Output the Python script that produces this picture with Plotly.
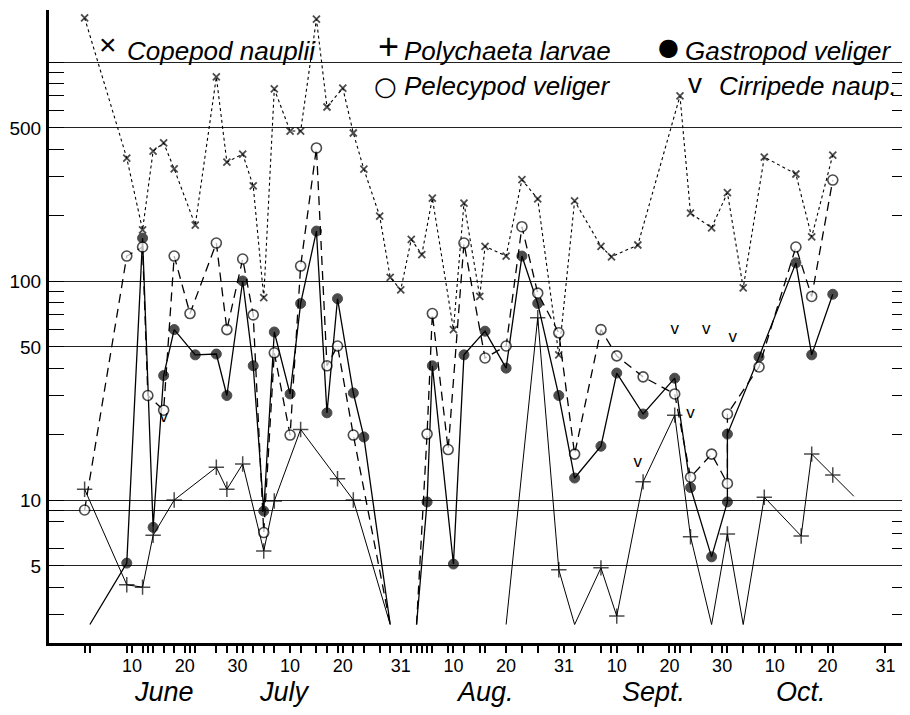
import plotly.graph_objects as go

YEAR = 1930

# ---------------- data ----------------
COPEPOD_DATES = ["06-01", "06-09", "06-12", "06-14", "06-16", "06-18", "06-22", "06-26", "06-28",
                 "07-01", "07-03", "07-05", "07-07", "07-10", "07-12", "07-15", "07-17", "07-20",
                 "07-22", "07-24", "07-27", "07-29", "07-31", "08-02", "08-04", "08-06", "08-10",
                 "08-12", "08-15", "08-16", "08-20", "08-23", "08-26", "08-30", "09-02", "09-07",
                 "09-09", "09-14", "09-22", "09-24", "09-28", "10-01", "10-04", "10-08", "10-14",
                 "10-17", "10-21"]
COPEPOD_VALUES = [1590, 364, 171, 392, 427, 325, 180, 855, 349,
                  380, 272, 84, 753, 484, 484, 1570, 623, 760,
                  474, 324, 198, 104, 91, 155, 132, 239, 60,
                  227, 85, 144, 130, 290, 237, 46, 232, 144,
                  129, 146, 700, 204, 175, 253, 93, 368, 308,
                  159, 376]

POLY_DATES = ["06-01", "06-09", "06-12", "06-14", "06-18", "06-26", "06-28", "07-01", "07-05",
              "07-07", "07-12", "07-19", "07-22", "07-29", "08-20", "08-26", "08-30", "09-02",
              "09-07", "09-10", "09-15", "09-21", "09-24", "09-28", "10-01", "10-04", "10-08",
              "10-15", "10-17", "10-21"]
POLY_VALUES = [11.2, 4.1, 4.0, 6.9, 10, 14.1, 11.2, 14.6, 5.85,
               9.9, 21, 12.5, 10, 0, 0, 68, 4.8, 0,
               4.9, 2.95, 12.1, 24.4, 6.8, 0, 7, 0, 10.3,
               6.85, 16.2, 13]
POLY_LINE_END = ("10-25", 10.4)   # line drawn on past the last sample, no marker

GASTRO_DATES = ["06-02", "06-09", "06-12", "06-14", "06-16", "06-18", "06-22", "06-26", "06-28",
                "07-01", "07-03", "07-05", "07-07", "07-10", "07-12", "07-15", "07-17", "07-19",
                "07-22", "07-24", "07-29", "08-03", "08-05", "08-06", "08-10", "08-12", "08-16",
                "08-20", "08-23", "08-26", "08-30", "09-02", "09-07", "09-10", "09-15", "09-21",
                "09-24", "09-28", "10-01", "10-01", "10-07", "10-14", "10-17", "10-21"]
GASTRO_VALUES = [0, 5.15, 157, 7.5, 37, 60, 46, 46.4, 30,
                 100, 41, 8.9, 58.5, 30.5, 79, 169, 25, 83,
                 30.8, 19.4, 0, 0, 9.8, 41, 5.1, 46, 59,
                 40, 130, 79, 30, 12.6, 17.6, 38, 24.7, 36,
                 11.4, 5.5, 9.8, 20, 45, 121, 46, 87]

PELE_DATES = ["06-01", "06-09", "06-12", "06-13", "06-16", "06-18", "06-21", "06-26", "06-28",
              "07-01", "07-03", "07-05", "07-07", "07-10", "07-12", "07-15", "07-17", "07-19",
              "07-22", "07-29", "08-03", "08-05", "08-06", "08-09", "08-12", "08-16", "08-20",
              "08-23", "08-26", "08-30", "09-02", "09-07", "09-10", "09-15", "09-21", "09-24",
              "09-28", "10-01", "10-01", "10-07", "10-14", "10-17", "10-21"]
PELE_VALUES = [9, 130, 143, 30, 25.7, 130, 71, 149, 60,
               126, 70, 7.1, 47, 19.8, 117, 405, 41, 50.5,
               19.8, 0, 0, 20, 71, 17, 149, 44.5, 50.5,
               177, 88, 58, 16.2, 60, 45.5, 36.5, 30.5, 12.7,
               16.2, 11.9, 24.7, 40.5, 143, 85, 289]

CIRRI_DATES = ["06-16", "09-14", "09-21", "09-24", "09-27", "10-02"]
CIRRI_VALUES = [23.7, 14.8, 60, 24.7, 60, 55]

Y_LABEL_VALUES = [5, 10, 50, 100, 500]
Y_GRID_VALUES = [5, 9, 10, 50, 100, 500, 1000]
Y_MINOR_LEFT = [3, 4, 6, 8, 20, 30, 40, 60, 70, 80, 90, 200, 300, 400, 600, 700, 800, 900]
Y_MINOR_RIGHT = [3, 4, 6, 7, 8, 20, 30, 40, 60, 70, 80, 90, 200, 300, 400, 600, 700, 800, 900]

X_TICK_DATES = ["06-10", "06-20", "06-30", "07-10", "07-20", "07-31", "08-10", "08-20", "08-31",
                "09-10", "09-20", "09-30", "10-10", "10-20", "10-31"]
X_TICK_TEXT = ["10", "20", "30", "10", "20", "31", "10", "20", "31",
               "10", "20", "30", "10", "20", "31"]
MONTHS = ["June", "July", "Aug.", "Sept.", "Oct."]
MONTH_CENTERS = ["06-16", "07-09", "08-16", "09-17", "10-15"]

LEGEND_NAMES = ["Copepod nauplii", "Polychaeta larvae", "Gastropod veliger",
                "Pelecypod veliger", "Cirripede naup."]
LEGEND_GLYPHS = ["×", "+", "●", "○", "v"]

# ---------------- helpers ----------------
FLOOR = 2.7   # level at which zero counts are drawn (line ends without marker)


def to_date(md):
    return f"{YEAR}-{md}"


def build(dates, values):
    xs, ys, marked = [], [], []
    prev_zero = False
    for d, v in zip(dates, values):
        zero = (v == 0)
        if zero and prev_zero:
            xs.append(to_date(d)); ys.append(None); marked.append(0)
        xs.append(to_date(d)); ys.append(FLOOR if zero else v); marked.append(0 if zero else 1)
        prev_zero = zero
    return xs, ys, marked


INK = "black"
SANS = "Liberation Sans"

fig = go.Figure()

# Copepod nauplii
x, y, m = build(COPEPOD_DATES, COPEPOD_VALUES)
fig.add_trace(go.Scatter(x=x, y=y, mode="lines+markers", name=LEGEND_NAMES[0],
                         line=dict(color=INK, width=1.1, dash="3px,3px"),
                         marker=dict(symbol="x-thin", size=[7 * k for k in m],
                                     line=dict(color=INK, width=1.8))))

# Polychaeta larvae
x, y, m = build(POLY_DATES, POLY_VALUES)
x.append(to_date(POLY_LINE_END[0])); y.append(POLY_LINE_END[1]); m.append(0)
fig.add_trace(go.Scatter(x=x, y=y, mode="lines+markers", name=LEGEND_NAMES[1],
                         line=dict(color=INK, width=1.0),
                         marker=dict(symbol="cross-thin", size=[11 * k for k in m],
                                     line=dict(color=INK, width=1.5))))

# Gastropod veliger
x, y, m = build(GASTRO_DATES, GASTRO_VALUES)
fig.add_trace(go.Scatter(x=x, y=y, mode="lines+markers", name=LEGEND_NAMES[2],
                         line=dict(color=INK, width=1.3),
                         marker=dict(symbol="circle", size=[10 * k for k in m], color=INK,
                                     line=dict(color=INK, width=1))))

# Pelecypod veliger
x, y, m = build(PELE_DATES, PELE_VALUES)
fig.add_trace(go.Scatter(x=x, y=y, mode="lines+markers", name=LEGEND_NAMES[3],
                         line=dict(color=INK, width=1.3, dash="9px,6px"),
                         marker=dict(symbol="circle", size=[10 * k for k in m], color="white",
                                     line=dict(color=INK, width=1.6))))

# Cirripede nauplii (marks only)
fig.add_trace(go.Scatter(x=[to_date(d) for d in CIRRI_DATES], y=CIRRI_VALUES, mode="text",
                         text=["v"] * len(CIRRI_DATES), name=LEGEND_NAMES[4],
                         textfont=dict(family=SANS, size=17, color=INK)))

# invisible trace that carries the right-hand tick axis
fig.add_trace(go.Scatter(x=[to_date("06-01")], y=[100], yaxis="y2", mode="markers",
                         marker=dict(opacity=0), hoverinfo="skip", showlegend=False))

# ---------------- layout ----------------
# The page body has an 8 px margin, so the figure is drawn 8 px right/down.
PAGE_OFFSET = 8
FIG_W, FIG_H = 910 - PAGE_OFFSET, 715 - PAGE_OFFSET
# plot-area edges in screen pixels
SCR_L, SCR_R, SCR_T, SCR_B = 49, 905, 10, 643
PLOT_L, PLOT_R = SCR_L - PAGE_OFFSET, SCR_R - PAGE_OFFSET
PLOT_T, PLOT_B = SCR_T - PAGE_OFFSET, SCR_B - PAGE_OFFSET
PX_PER_DECADE = 219.0


def log_at_screen(p):
    return (719 - p) / PX_PER_DECADE


Y_RANGE = [log_at_screen(SCR_B), log_at_screen(SCR_T)]
X_RANGE = [f"{YEAR}-05-25 05:45", f"{YEAR}-11-03 17:00"]


def pxp(xscr):
    return (xscr - SCR_L) / (SCR_R - SCR_L)


def pyp(yscr):
    return (SCR_B - yscr) / (SCR_B - SCR_T)


all_dates = sorted(set(COPEPOD_DATES + POLY_DATES + GASTRO_DATES + PELE_DATES))

fig.update_layout(
    template="none",
    width=FIG_W, height=FIG_H,
    margin=dict(l=PLOT_L, r=FIG_W - PLOT_R, t=PLOT_T, b=FIG_H - PLOT_B, pad=0),
    paper_bgcolor="white", plot_bgcolor="white",
    showlegend=False,
    xaxis=dict(
        type="date", range=X_RANGE, automargin=False,
        tickmode="array", tickvals=[to_date(d) for d in X_TICK_DATES], ticktext=X_TICK_TEXT,
        ticks="outside", ticklen=7, tickwidth=1.5, tickcolor=INK,
        tickfont=dict(family=SANS, size=18, color=INK),
        ticklabelstandoff=-3,
        showline=True, linecolor=INK, linewidth=3,
        showgrid=False, zeroline=False,
        minor=dict(tickmode="array", tickvals=[to_date(d) for d in all_dates],
                   ticks="outside", ticklen=7, tickwidth=1.5, tickcolor=INK, showgrid=False),
    ),
    yaxis=dict(
        type="log", range=Y_RANGE, automargin=False,
        tickmode="array", tickvals=Y_GRID_VALUES,
        ticktext=[str(v) if v in Y_LABEL_VALUES else "" for v in Y_GRID_VALUES],
        ticks="inside", ticklen=15, tickwidth=1.3, tickcolor=INK,
        tickfont=dict(family=SANS, size=19, color=INK),
        ticklabelstandoff=1,
        showline=True, linecolor=INK, linewidth=3,
        showgrid=True, gridcolor="#222222", gridwidth=1.2, zeroline=False,
        minor=dict(tickmode="array", tickvals=Y_MINOR_LEFT, ticks="inside", ticklen=15,
                   tickwidth=1.3, tickcolor=INK, showgrid=False),
    ),
    yaxis2=dict(
        type="log", range=Y_RANGE, overlaying="y", side="right", automargin=False,
        tickmode="array", tickvals=Y_MINOR_RIGHT, ticks="inside", ticklen=13,
        tickwidth=1.3, tickcolor=INK, showticklabels=False,
        showline=False, showgrid=False, zeroline=False,
    ),
)

annotations = []
legend_text_pos = [(125, 51), (402, 51), (683, 51), (402, 86), (717, 86)]
legend_glyph_pos = [(108, 45, 30), (388, 46, 36), (668, 47, 24), (385, 86, 26), (695, 84, 28)]
for name, (lx, ly) in zip(LEGEND_NAMES, legend_text_pos):
    annotations.append(dict(xref="paper", yref="paper", x=pxp(lx), y=pyp(ly),
                            xanchor="left", yanchor="middle", showarrow=False, text=name,
                            font=dict(family=SANS, size=26, color=INK, style="italic")))
for g, (gx, gy, gs) in zip(LEGEND_GLYPHS, legend_glyph_pos):
    annotations.append(dict(xref="paper", yref="paper", x=pxp(gx), y=pyp(gy),
                            xanchor="center", yanchor="middle", showarrow=False, text=g,
                            font=dict(family="DejaVu Sans" if g in "●○" else SANS,
                                      size=gs, color=INK)))
for mname, mc in zip(MONTHS, MONTH_CENTERS):
    annotations.append(dict(xref="x", yref="paper", x=to_date(mc), y=pyp(692),
                            xanchor="center", yanchor="middle", showarrow=False, text=mname,
                            font=dict(family=SANS, size=27, color=INK, style="italic")))
fig.update_layout(annotations=annotations)

fig.write_html("out.html")
